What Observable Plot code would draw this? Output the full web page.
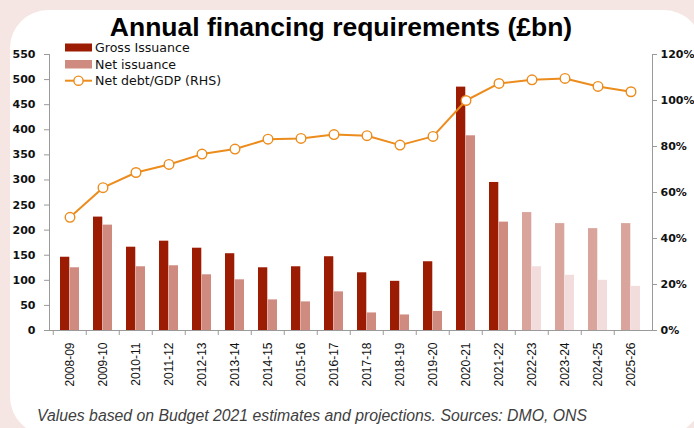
<!DOCTYPE html>
<html>
<head>
<meta charset="utf-8">
<script src="https://cdn.jsdelivr.net/npm/d3@7"></script>
<script src="https://cdn.jsdelivr.net/npm/@observablehq/plot@0.6"></script>
<style>
  html, body { margin: 0; padding: 0; background: #f5e6e3; }
  #wrap { position: relative; width: 694px; height: 428px; overflow: hidden; background: #f5e6e3; }
  #card { position: absolute; left: 10px; top: 10px; width: 692px; height: 425px; background: #ffffff; border-radius: 38px; }
  #chart { position: absolute; left: 0; top: 0; }
  #title { position: absolute; left: 0; top: 11.9px; width: 682px; text-align: center; line-height: 0.9;
           font: bold 26.5px "Liberation Sans", Arial, sans-serif; color: #000; white-space: nowrap; }
  .lg { position: absolute; left: 65px; height: 13px; line-height: 13px; white-space: nowrap;
        font-family: "DejaVu Sans", Verdana, sans-serif; font-size: 12.6px; color: #111; }
  .lg svg { position: absolute; left: 0; top: 0; overflow: visible; }
  .lg span { position: absolute; left: 30px; top: 0; }
  #caption { position: absolute; left: 37px; top: 406.6px; line-height: 1; white-space: nowrap;
             font: italic 15.8px "Liberation Sans", Arial, sans-serif; color: #404040; }
</style>
</head>
<body>
<div id="wrap">
  <div id="card"></div>
  <div id="chart"></div>
  <div id="title"></div>
  <div id="legend"></div>
  <div id="caption"></div>
</div>
<script>
// ---- data ----
const years = ["2008-09","2009-10","2010-11","2011-12","2012-13","2013-14","2014-15","2015-16","2016-17",
               "2017-18","2018-19","2019-20","2020-21","2021-22","2022-23","2023-24","2024-25","2025-26"];
const grossIssuance = [146, 226, 166, 178, 164, 153, 125, 127, 147, 115, 98, 137, 485, 295, 235, 213, 203, 213];
const netIssuance   = [125, 210, 127, 129, 111, 101, 61, 57, 77, 35, 31, 38, 388, 216, 127, 110, 100, 88];
const netDebtGDP    = [49.2, 62.1, 68.7, 72.2, 76.7, 78.9, 83.2, 83.5, 85.2, 84.7, 80.6, 84.4, 100.0, 107.4, 109.0, 109.6, 106.1, 103.8];
const firstProjectedYear = "2022-23";
const leftTicks  = [0, 50, 100, 150, 200, 250, 300, 350, 400, 450, 500, 550];
const rightTicks = [0, 20, 40, 60, 80, 100, 120];
const seriesNames = ["Gross Issuance", "Net issuance", "Net debt/GDP (RHS)"];
const titleText = "Annual financing requirements (£bn)";
const captionText = "Values based on Budget 2021 estimates and projections. Sources: DMO, ONS";

// ---- styling ----
const C = {
  gross: "#9c1c03", net: "#d08b80",
  grossProj: "#d9a49c", netProj: "#f2dcdc",
  line: "#ec8c1c", axis: "#9a9a9a", text: "#111111"
};
const W = 694, H = 400, mL = 49, mR = 42, mT = 54, mB = 70;
const yMax = 550, pctMax = 120;
const toLeft = p => p * yMax / pctMax;
const padIn = 0.42;
const step = (W - mL - mR) / years.length;
const bw = step * (1 - padIn);

const projStart = years.indexOf(firstProjectedYear);
const rows = years.map((year, i) => ({
  year, gross: grossIssuance[i], net: netIssuance[i], debt: netDebtGDP[i], proj: i >= projStart
}));

const chart = Plot.plot({
  width: W, height: H,
  marginTop: mT, marginBottom: mB, marginLeft: mL, marginRight: mR,
  style: { background: "transparent", overflow: "visible" },
  x: { domain: years, paddingInner: padIn, paddingOuter: padIn / 2, axis: null },
  y: { domain: [0, yMax], axis: null },
  color: { type: "identity" },
  marks: [
    Plot.barY(rows, { x: "year", y: "gross", fill: d => d.proj ? C.grossProj : C.gross, insetRight: bw / 2 }),
    Plot.barY(rows, { x: "year", y: "net", fill: d => d.proj ? C.netProj : C.net, insetLeft: bw / 2 }),
    Plot.ruleY([0], { stroke: C.axis }),
    Plot.frame({ anchor: "left", stroke: C.axis }),
    Plot.frame({ anchor: "right", stroke: C.axis }),
    Plot.axisY(leftTicks, {
      anchor: "left", label: null, tickSize: 5, tickPadding: 9,
      stroke: C.axis, fill: C.text, fontSize: 11, fontWeight: "bold", fontFamily: "DejaVu Sans"
    }),
    Plot.axisY(rightTicks.map(toLeft), {
      anchor: "right", label: null, tickSize: 4, tickPadding: 4,
      tickFormat: d => Math.round(d * pctMax / yMax) + "%",
      stroke: C.axis, fill: C.text, fontSize: 11, fontWeight: "bold", fontFamily: "DejaVu Sans"
    }),
    Plot.axisX({
      label: null, tickSize: 5, tickFormat: () => "", dx: -step / 2, stroke: C.axis
    }),
    Plot.axisX({
      label: null, tickSize: 0, tickPadding: 12, tickRotate: -90,
      fill: C.text, fontSize: 12, fontFamily: "Liberation Sans"
    }),
    Plot.line(rows, { x: "year", y: d => toLeft(d.debt), stroke: C.line, strokeWidth: 2 }),
    Plot.dot(rows, { x: "year", y: d => toLeft(d.debt), r: 4.8, fill: "white", stroke: C.line, strokeWidth: 1.4 })
  ]
});
document.getElementById("chart").appendChild(chart);
document.getElementById("title").textContent = titleText;
document.getElementById("caption").textContent = captionText;

// ---- legend ----
const legend = document.getElementById("legend");
const rowTops = [41.3, 57.8, 74.3];
const swatches = [
  `<svg width="27" height="13"><rect x="0" y="2.5" width="27" height="8" fill="${C.gross}"/></svg>`,
  `<svg width="27" height="13"><rect x="0" y="2.0" width="27" height="8.5" fill="${C.net}"/></svg>`,
  `<svg width="27" height="13"><line x1="0" x2="27" y1="6.7" y2="6.7" stroke="${C.line}" stroke-width="2"/><circle cx="13.5" cy="6.7" r="4.6" fill="white" stroke="${C.line}" stroke-width="1.4"/></svg>`
];
seriesNames.forEach((name, i) => {
  const d = document.createElement("div");
  d.className = "lg";
  d.style.top = rowTops[i] + "px";
  d.innerHTML = swatches[i] + "<span></span>";
  d.querySelector("span").textContent = name;
  legend.appendChild(d);
});
</script>
</body>
</html>
